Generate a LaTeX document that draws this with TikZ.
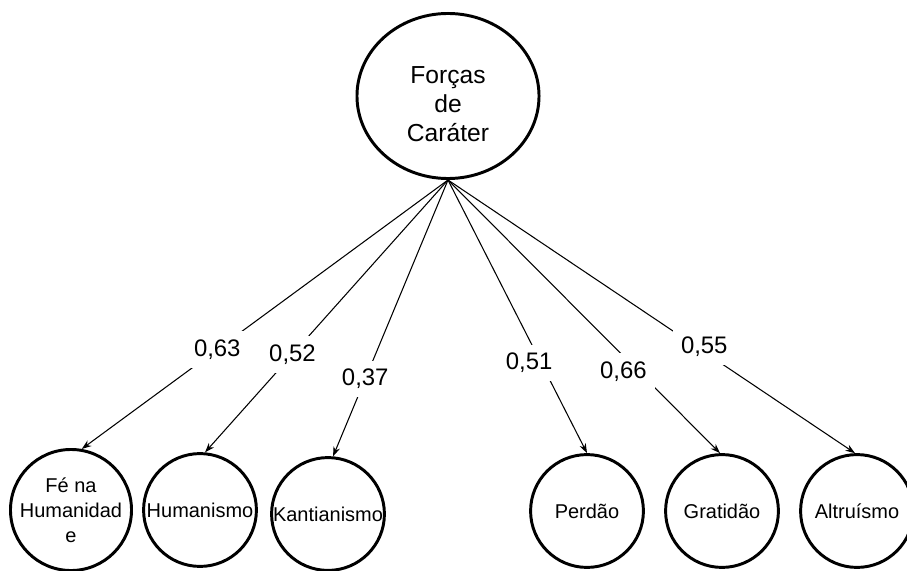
\documentclass[tikz,border=0pt]{standalone}
\usepackage{fontspec}
\setmainfont{Liberation Sans}
\usetikzlibrary{shapes.geometric, arrows.meta}
\tikzset{
    fator/.style={draw=black, ellipse, line width=2.1pt, minimum width=4.55cm, minimum height=4.125cm, align=center, font=\fontsize{17.5}{20.6}\selectfont},
    faceta/.style={draw=black, circle, line width=2.1pt, minimum size=2.82cm, inner sep=0pt, align=center, font=\fontsize{14.2}{17.8}\selectfont},
    carga/.style={-{Stealth[length=2.4mm, width=1.7mm]}, line width=0.75pt},
    peso/.style={fill=white, inner sep=6pt, font=\fontsize{17}{20}\selectfont}
}

\begin{document}
\begin{tikzpicture}[x=0.025cm, y=-0.025cm]
    \useasboundingbox (0,0) rectangle (907,571);
    % fator geral
    \node[fator] (forcas) at (448,96) {\rule{0pt}{24pt}Forças\\de\\Caráter};
    % facetas
    \node[faceta] (fe) at (71,510) {Fé na\\Humanidad\\e};
    \node[faceta] (humanismo) at (200,510) {Humanismo};
    \node[faceta] (kant) at (328,514) {Kantianismo};
    \node[faceta] (perdao) at (587,511) {Perdão};
    \node[faceta] (gratidao) at (722,511) {Gratidão};
    \node[faceta] (altruismo) at (857,511) {Altruísmo};
    % cargas fatoriais
    \draw[carga] (forcas.south) -- node[peso, pos=0.63] {0,63} (fe.80);
    \draw[carga] (forcas.south) -- node[peso, pos=0.64] {0,52} (humanismo.85);
    \draw[carga] (forcas.south) -- node[peso, pos=0.72] {0,37} (kant.85);
    \draw[carga] (forcas.south) -- node[peso, pos=0.67, xshift=-0.3cm] {0,51} (perdao.north);
    \draw[carga] (forcas.south) -- node[peso, pos=0.70, xshift=-0.375cm] {0,66} (gratidao.92);
    \draw[carga] (forcas.south) -- node[peso, pos=0.61, xshift=0.2cm] {0,55} (altruismo.92);
\end{tikzpicture}
\end{document}
